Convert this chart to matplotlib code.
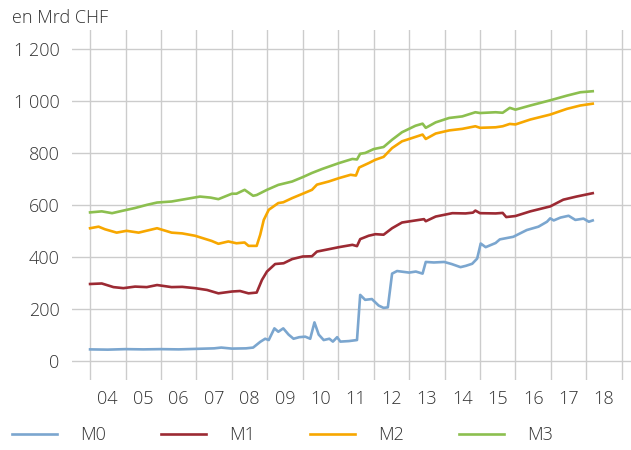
import matplotlib
matplotlib.use("Agg")
import matplotlib.pyplot as plt
from matplotlib.ticker import FixedLocator, FuncFormatter

# data, dates as decimal years, values in bn CHF
m0_t = [2004.0, 2004.5, 2005.0, 2005.5, 2006.0, 2006.5, 2007.0, 2007.5, 2007.7, 2008.0, 2008.4, 2008.6,
        2008.8, 2008.94, 2009.04, 2009.2, 2009.31, 2009.45, 2009.6, 2009.74, 2009.9, 2010.07, 2010.21,
        2010.33, 2010.45, 2010.59, 2010.75, 2010.85, 2010.97, 2011.06, 2011.3, 2011.53, 2011.62, 2011.76,
        2011.95, 2012.14, 2012.28, 2012.4, 2012.52, 2012.66, 2013.0, 2013.19, 2013.38, 2013.47, 2013.7,
        2013.99, 2014.2, 2014.45, 2014.6, 2014.78, 2014.92, 2015.02, 2015.16, 2015.44, 2015.56, 2015.94,
        2016.32, 2016.65, 2016.89, 2016.98, 2017.08, 2017.27, 2017.5, 2017.69, 2017.92, 2018.07, 2018.18]
m0 = [43, 42, 44, 43, 44, 43, 45, 47, 50, 46, 47, 50,
      72, 84, 79, 124, 111, 124, 100, 84, 90, 92, 84,
      147, 100, 79, 84, 73, 90, 73, 75, 79, 253, 234,
      237, 212, 203, 205, 335, 345, 339, 343, 335, 380, 378,
      380, 372, 360, 365, 373, 393, 451, 437, 453, 467, 477,
      503, 516, 535, 548, 540, 551, 558, 542, 547, 535, 540]

m1_t = [2004.0, 2004.33, 2004.66, 2004.94, 2005.27, 2005.6, 2005.89, 2006.3, 2006.6, 2006.96, 2007.3,
        2007.62, 2008.0, 2008.23, 2008.47, 2008.7, 2008.85, 2008.99, 2009.22, 2009.46, 2009.7, 2010.0,
        2010.26, 2010.4, 2010.73, 2011.02, 2011.4, 2011.53, 2011.62, 2011.86, 2012.05, 2012.28, 2012.52,
        2012.8, 2013.18, 2013.42, 2013.47, 2013.75, 2014.22, 2014.59, 2014.8, 2014.87, 2015.0, 2015.44,
        2015.64, 2015.74, 2016.0, 2016.42, 2016.98, 2017.35, 2017.72, 2018.18]
m1 = [295, 297, 283, 279, 285, 283, 291, 283, 284, 279, 272,
      259, 266, 268, 259, 262, 311, 343, 372, 375, 391, 401,
      402, 420, 429, 437, 446, 441, 468, 481, 487, 485, 510,
      532, 540, 545, 537, 555, 568, 567, 570, 578, 568, 567,
      569, 553, 557, 575, 594, 620, 632, 645]

m2_t = [2004.0, 2004.24, 2004.42, 2004.75, 2005.03, 2005.37, 2005.89, 2006.3, 2006.6, 2006.96, 2007.43,
        2007.62, 2007.9, 2008.13, 2008.36, 2008.47, 2008.7, 2008.8, 2008.9, 2009.04, 2009.31, 2009.45,
        2009.7, 2010.0, 2010.26, 2010.4, 2010.73, 2011.02, 2011.35, 2011.5, 2011.59, 2011.86, 2012.05,
        2012.28, 2012.52, 2012.8, 2013.18, 2013.38, 2013.47, 2013.75, 2014.13, 2014.5, 2014.87, 2015.0,
        2015.44, 2015.64, 2015.84, 2016.0, 2016.42, 2016.98, 2017.45, 2017.83, 2018.18]
m2 = [510, 516, 506, 493, 500, 493, 510, 493, 490, 481, 461,
      450, 459, 452, 455, 442, 442, 485, 542, 581, 607, 610,
      626, 643, 658, 678, 690, 703, 716, 713, 744, 761, 774,
      785, 819, 845, 862, 871, 854, 875, 887, 893, 903, 897,
      899, 903, 912, 910, 929, 948, 970, 983, 990]

m3_t = [2004.0, 2004.33, 2004.62, 2004.94, 2005.27, 2005.6, 2005.89, 2006.3, 2006.68, 2007.1, 2007.4,
        2007.62, 2008.0, 2008.13, 2008.36, 2008.6, 2008.7, 2008.99, 2009.31, 2009.7, 2010.0, 2010.26,
        2010.54, 2011.02, 2011.4, 2011.53, 2011.62, 2011.76, 2012.0, 2012.28, 2012.52, 2012.8, 2013.18,
        2013.38, 2013.47, 2013.75, 2014.13, 2014.5, 2014.87, 2015.0, 2015.44, 2015.64, 2015.84, 2016.0,
        2016.42, 2016.98, 2017.45, 2017.83, 2018.18]
m3 = [571, 575, 568, 578, 588, 600, 609, 613, 622, 632, 628,
      622, 643, 643, 658, 635, 638, 658, 677, 690, 707, 723,
      738, 761, 777, 775, 797, 800, 815, 823, 851, 880, 905,
      913, 897, 918, 935, 941, 957, 954, 957, 955, 974, 967,
      983, 1003, 1021, 1034, 1038]

series = [("M0", m0_t, m0, "#7ba6cf"),
          ("M1", m1_t, m1, "#9c2a33"),
          ("M2", m2_t, m2, "#f7a700"),
          ("M3", m3_t, m3, "#8cbf4f")]

years = list(range(2004, 2020))
year_labels = ["04", "05", "06", "07", "08", "09", "10", "11", "12", "13", "14", "15", "16", "17", "18"]
y_ticks = [0, 200, 400, 600, 800, 1000, 1200]

txt = "#333333"
grid = "#cccccc"
fs = 13
plt.rcParams['font.family'] = ['Open Sans', 'DejaVu Sans']
plt.rcParams['font.weight'] = 'light'

fig = plt.figure(figsize=(6.31, 4.5), dpi=100)
ax = fig.add_axes([72/631, 1 - 380/450, 1 - 72/631, 350/450])

for yr in years:
    ax.axvline(yr, color=grid, lw=1.0, zorder=1)
for v in y_ticks:
    ax.axhline(v, color=grid, lw=1.0, zorder=1)

for name, t, v, c in series:
    ax.plot(t, v, color=c, lw=1.9, label=name, zorder=3, solid_joinstyle="round")

ax.set_xlim(2003.49, 2019.26)
ax.set_ylim(-75, 1274)
for s in ax.spines.values():
    s.set_visible(False)

ax.yaxis.set_major_locator(FixedLocator(y_ticks))
ax.yaxis.set_major_formatter(FuncFormatter(lambda v, p: f"{int(v):,}".replace(",", " ")))
ax.xaxis.set_major_locator(FixedLocator([y + 0.5 for y in years[:-1]]))
ax.set_xticklabels(year_labels)
ax.tick_params(axis="both", length=0, labelsize=fs, labelcolor=txt)
ax.tick_params(axis="y", pad=9)
ax.tick_params(axis="x", pad=7)

fig.text(12/631, 1 - 18/450, "en Mrd CHF", fontsize=fs, color=txt, va="center", ha="left")

fig.legend(loc="center left", bbox_to_anchor=(12/631, 1 - 435/450), ncol=4, frameon=False,
           fontsize=fs, labelcolor=txt, handlelength=2.5, handletextpad=1.27,
           columnspacing=3.05, borderpad=0, borderaxespad=0)

fig.savefig("out.png", dpi=100)
